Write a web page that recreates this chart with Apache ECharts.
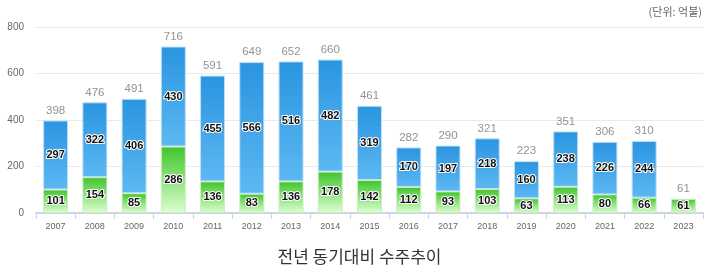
<!DOCTYPE html>
<html>
<head>
<meta charset="utf-8">
<script src="https://cdn.jsdelivr.net/npm/echarts@6/dist/echarts.min.js"></script>
<style>
  html, body { margin: 0; padding: 0; background: #fff; }
  #chart { width: 719px; height: 271px; }
</style>
</head>
<body>
<div id="chart"></div>
<script>
const years = ["2007", "2008", "2009", "2010", "2011", "2012", "2013", "2014", "2015",
  "2016", "2017", "2018", "2019", "2020", "2021", "2022", "2023"];
const greenValues = [101, 154, 85, 286, 136, 83, 136, 178, 142, 112, 93, 103, 63, 113, 80, 66, 61];
const blueValues = [297, 322, 406, 430, 455, 566, 516, 482, 319, 170, 197, 218, 160, 238, 226, 244, null];
const totals = [398, 476, 491, 716, 591, 649, 652, 660, 461, 282, 290, 321, 223, 351, 306, 310, 61];

const chart = echarts.init(document.getElementById("chart"));

const innerLabel = {
  show: true,
  position: "inside",
  color: "#111",
  fontSize: 11,
  fontWeight: "bold",
  fontFamily: "Arial, 'Liberation Sans', sans-serif",
  textBorderColor: "#fff",
  textBorderWidth: 2,
};

chart.setOption({
  animation: false,
  title: [
    {
      text: "전년 동기대비 수주추이",
      left: "center",
      top: 243,
      textStyle: {
        fontSize: 17,
        fontWeight: "normal",
        color: "#333",
        fontFamily: "'Noto Sans CJK KR', sans-serif",
      },
    },
    {
      text: "(단위: 억불)",
      right: 12,
      top: 1,
      textStyle: {
        fontSize: 11,
        fontWeight: "normal",
        color: "#666",
        fontFamily: "'Noto Sans CJK KR', sans-serif",
      },
    },
  ],
  grid: { left: 36, right: 16, top: 27, bottom: 58 },
  xAxis: {
    type: "category",
    data: years,
    axisLine: { lineStyle: { color: "#cdd5e3", width: 2 } },
    axisTick: { show: true, alignWithLabel: false, lineStyle: { color: "#cdd5e3" }, length: 6 },
    axisLabel: { color: "#666", fontSize: 9, margin: 9 },
  },
  yAxis: {
    type: "value",
    min: 0,
    max: 800,
    interval: 200,
    axisLine: { show: false },
    axisTick: { show: false },
    axisLabel: { color: "#666", fontSize: 10, margin: 12 },
    splitLine: { lineStyle: { color: "#e8eaee" } },
  },
  series: [
    {
      name: "green",
      type: "bar",
      stack: "total",
      barWidth: 25,
      data: greenValues,
      itemStyle: {
        color: new echarts.graphic.LinearGradient(0, 0, 0, 1, [
          { offset: 0, color: "#3ec52a" },
          { offset: 1, color: "#dcffd0" },
        ]),
        borderColor: "#cdeec4",
        borderWidth: 1,
      },
      label: innerLabel,
    },
    {
      name: "blue",
      type: "bar",
      stack: "total",
      barWidth: 25,
      data: blueValues,
      itemStyle: {
        color: new echarts.graphic.LinearGradient(0, 0, 0, 1, [
          { offset: 0, color: "#2a95e1" },
          { offset: 1, color: "#5cb8f2" },
        ]),
        borderColor: "#bfe0f7",
        borderWidth: 1,
      },
      label: innerLabel,
    },
    {
      name: "total",
      type: "scatter",
      data: totals,
      symbolSize: 0,
      silent: true,
      label: {
        show: true,
        position: "top",
        distance: 4,
        color: "#777",
        fontSize: 11.5,
        fontFamily: "Arial, 'Liberation Sans', sans-serif",
      },
    },
  ],
});
</script>
</body>
</html>
